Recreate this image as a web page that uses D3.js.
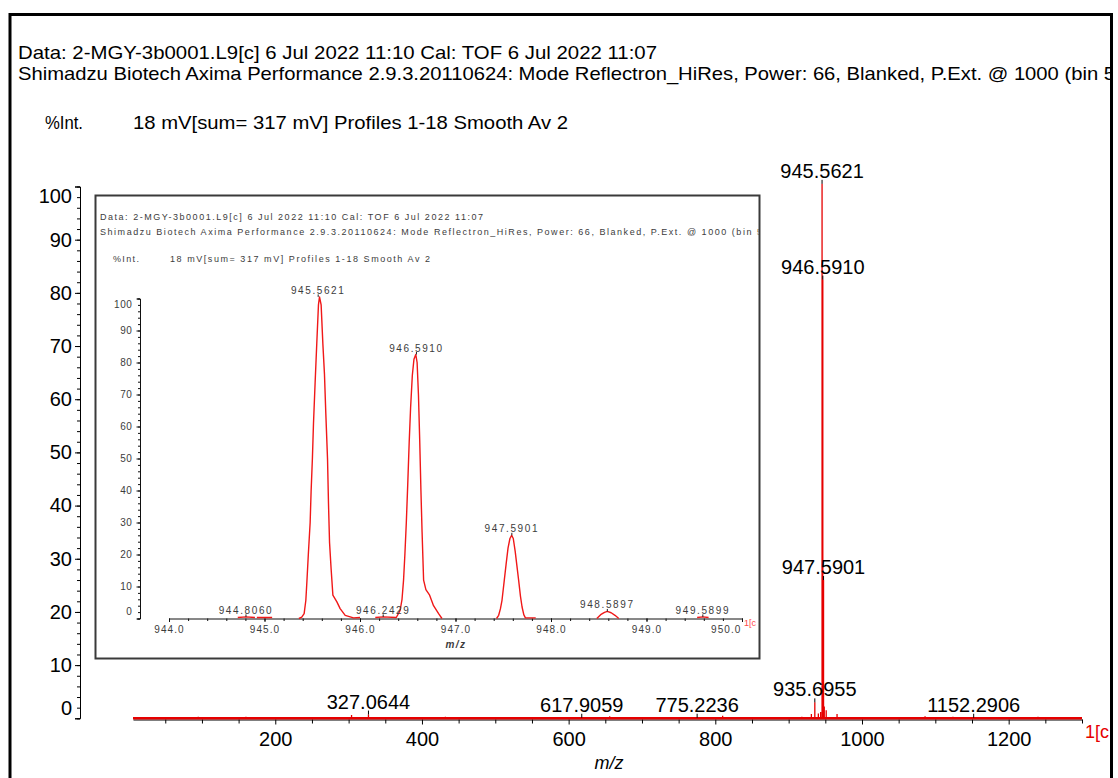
<!DOCTYPE html>
<html>
<head>
<meta charset="utf-8">
<script src="https://cdn.jsdelivr.net/npm/d3@7"></script>
<style>
  body { margin: 0; background: #fff; }
  svg { display: block; font-family: "Liberation Sans", Arial, sans-serif; }
</style>
</head>
<body>
<svg id="chart" width="1118" height="778"></svg>
<script>
// ---- acquisition header ----
const headerLine1 = "Data: 2-MGY-3b0001.L9[c] 6 Jul 2022 11:10 Cal: TOF 6 Jul 2022 11:07";
const headerLine2 = "Shimadzu Biotech Axima Performance 2.9.3.20110624: Mode Reflectron_HiRes, Power: 66, Blanked, P.Ext. @ 1000 (bin 5";
const intLabel = "%Int.";
const infoLine = "18 mV[sum= 317 mV]  Profiles 1-18 Smooth Av 2";
const traceTag = "1[c";
const axisTitle = "m/z";

// ---- full-range spectrum (m/z, % intensity) ----
const mainMz  = [95, 160, 304, 327.0644, 432, 617.9059, 656, 775.2236, 810, 918, 931, 935.6955, 940.5, 943.6,
                 945.5621, 946.5910, 947.5901, 948.5897, 951.2, 966, 1086, 1124, 1152.2906, 1240];
const mainInt = [0.3, 0.3, 0.6, 0.7, 0.3, 0.1, 0.4, 0.1, 0.5, 0.3, 0.8, 3.0, 0.9, 1.2,
                 100.5, 82.5, 26, 2.2, 1.5, 0.8, 0.4, 0.3, 0.1, 0.3];
const mainLabelMz  = [327.0644, 617.9059, 775.2236, 935.6955, 945.5621, 946.5910, 947.5901, 1152.2906];
const mainLabelInt = [0.7, 0.1, 0.1, 3.0, 100.5, 82.5, 26, 0.1];
const mainXTicks = [200, 400, 600, 800, 1000, 1200];
const mainXMinor = [50, 100, 150, 250, 300, 350, 450, 500, 550, 650, 700, 750, 850, 900, 950, 1050, 1100, 1150, 1250, 1300];
const yTicks = [0, 10, 20, 30, 40, 50, 60, 70, 80, 90, 100];
const yMinor = d3.range(0, 101, 2);

// ---- zoomed isotope cluster (m/z, % intensity); null marks a break in the trace ----
const insetMz = [
  944.72, 944.806, 944.90, null,
  944.92, 945.00, 945.08, null,
  945.36, 945.39, 945.415, 945.433, 945.443, 945.46, 945.478, 945.488, 945.502, 945.513, 945.530, 945.548,
  945.565, 945.576, 945.593, 945.611, 945.628, 945.642, 945.660, 945.670, 945.681, 945.698, 945.716, 945.758,
  945.792, 945.845, 945.932, 946.00, null,
  946.16, 946.2429, 946.38, 946.42, 946.44, 946.456, 946.47, 946.485, 946.50, 946.515, 946.53, 946.548,
  946.565, 946.584, 946.598, 946.612, 946.625, 946.638, 946.65, 946.666, 946.69, 946.729, 946.77, 946.823, 946.858, null,
  947.43, 947.452, 947.47, 947.487, 947.511, 947.53, 947.55, 947.57, 947.588, 947.605, 947.625, 947.645,
  947.661, 947.68, 947.697, 947.715, 947.732, 947.84, null,
  948.48, 948.52, 948.56, 948.59, 948.63, 948.67, 948.71, null,
  949.53, 949.59, 949.65
];
const insetInt = [
  0.3, 0.5, 0.3, null,
  0.3, 0.3, 0.3, null,
  0, 0.4, 1.5, 5.7, 11, 20.6, 30, 39.7, 50.3, 61, 73.7, 86.4,
  98, 100.5, 98, 85.9, 76.3, 64.1, 49.8, 36, 23.8, 15.3, 7.3, 5.2,
  3.1, 1, 0.2, 0.3, null,
  0.3, 0.5, 0.3, 2.5, 6, 12, 20, 30, 42, 55, 66, 76,
  81, 82.5, 80, 70, 56, 40, 27, 12, 9, 7.3, 4, 1.5, 0, null,
  0, 1, 3, 5.7, 12, 17, 22, 25, 26, 25, 21, 16,
  12, 7, 3.6, 1.2, 0.2, 0.2, null,
  0, 1.2, 1.9, 2.2, 1.8, 1, 0, null,
  0.3, 0.5, 0.3
];
const insetLabelMz  = [944.8060, 945.5621, 946.2429, 946.5910, 947.5901, 948.5897, 949.5899];
const insetLabelInt = [0.5, 100.5, 0.5, 82.5, 26, 2.2, 0.5];
const insetXTicks = [944, 945, 946, 947, 948, 949, 950];
const insetXMinor = d3.range(944, 950.001, 0.2);

const RED = "#e60000";
const svg = d3.select("#chart");
const fmt4 = d3.format(".4f");

svg.append("rect").attr("width", 1118).attr("height", 778).attr("fill", "#fff");

// frame clip so long header text is cut at the border
const defs = svg.append("defs");
defs.append("clipPath").attr("id", "frameClip")
  .append("rect").attr("x", 11.5).attr("y", 15).attr("width", 1098.5).attr("height", 800);
defs.append("clipPath").attr("id", "insetClip")
  .append("rect").attr("x", 96.5).attr("y", 196.5).attr("width", 662).attr("height", 460);

const page = svg.append("g").attr("clip-path", "url(#frameClip)");

// header text fitted to a fixed run length
function fitText(g, str, x0, yb, size, width, fill, mode) {
  return g.append("text").attr("x", x0).attr("y", yb).attr("font-size", size)
    .attr("fill", fill || "#000")
    .attr("textLength", width).attr("lengthAdjust", mode || "spacingAndGlyphs").text(str);
}

// ---- header ----
fitText(page, headerLine1, 18, 59, 18.5, 639);
fitText(page, headerLine2, 18, 80, 18.5, 1097);
fitText(page, intLabel, 45, 129, 18.5, 38);
fitText(page, infoLine, 133, 129, 18.5, 435);

// ---- main scales ----
const x = d3.scaleLinear().domain([6, 1300]).range([133, 1082]);
const y = d3.scaleLinear().domain([0, 100]).range([718.3, 186.5]);

// y axis
const yAxisG = page.append("g").attr("transform", "translate(80,0)");
yAxisG.append("g").call(d3.axisLeft(y).tickValues(yMinor).tickSize(3).tickSizeOuter(0).tickFormat(""))
  .call(g => g.select(".domain").remove());
yAxisG.append("g").call(d3.axisLeft(y).tickValues(yTicks).tickSize(5).tickSizeOuter(5).tickPadding(3))
  .call(g => g.selectAll("text").attr("font-size", 20).attr("font-family", "Liberation Sans, Arial, sans-serif").attr("fill", "#000"))
  .call(g => g.selectAll(".tick").filter(d => d === 0).select("text").attr("dy", "-0.2em"))
  .call(g => g.selectAll(".tick").filter(d => d === 100).select("text").attr("dy", "0.8em"));
yAxisG.selectAll("line, path").attr("stroke", "#000");

// x axis
const xAxisG = page.append("g").attr("transform", "translate(0,719.5)");
xAxisG.append("g").call(d3.axisBottom(x).tickValues(mainXMinor).tickSize(4).tickSizeOuter(0).tickFormat(""))
  .call(g => g.select(".domain").remove());
xAxisG.append("g").call(d3.axisBottom(x).tickValues(mainXTicks).tickSize(5).tickSizeOuter(0).tickPadding(7)
    .tickFormat(d3.format("d")))
  .call(g => g.selectAll("text").attr("font-size", 20).attr("font-family", "Liberation Sans, Arial, sans-serif").attr("fill", "#000"));
xAxisG.selectAll("line, path").attr("stroke", "#000");

page.append("text").attr("x", 609).attr("y", 769).attr("text-anchor", "middle")
  .attr("font-size", 18).attr("font-style", "italic").text(axisTitle);
page.append("text").attr("x", 1085).attr("y", 738).attr("font-size", 18).attr("fill", RED).text(traceTag);

// ---- main spectrum trace ----
const mainPts = [[6, 0]];
mainMz.forEach((m, i) => { mainPts.push([m, 0], [m, mainInt[i]], [m, 0]); });
mainPts.push([1300, 0]);
const mainLine = d3.line().x(d => x(d[0])).y(d => y(d[1]));
page.append("path").datum([[6, 0], [1300, 0]]).attr("d", mainLine)
  .attr("fill", "none").attr("stroke", RED).attr("stroke-width", 2.6);
page.append("path").datum(mainPts).attr("d", mainLine)
  .attr("fill", "none").attr("stroke", RED).attr("stroke-width", 1.3);

// peak markers and labels
const mainLab = page.append("g");
mainLabelMz.forEach((m, i) => {
  const py = y(mainLabelInt[i]);
  mainLab.append("line").attr("x1", x(m)).attr("x2", x(m)).attr("y1", py).attr("y2", py - 4)
    .attr("stroke", "#000").attr("stroke-width", 1);
  mainLab.append("text").attr("x", x(m)).attr("y", py - 6).attr("text-anchor", "middle")
    .attr("font-size", 20).text(fmt4(m));
});

// ---- inset panel ----
const inset = page.append("g");
inset.append("rect").attr("x", 95.5).attr("y", 195.5).attr("width", 664).attr("height", 463)
  .attr("fill", "#fff").attr("stroke", "#3a3a3a").attr("stroke-width", 2);
const inner = inset.append("g").attr("clip-path", "url(#insetClip)");
const GRAY = "#3c3c3c";

fitText(inner, headerLine1, 100, 220, 9, 383, GRAY, "spacing");
fitText(inner, headerLine2, 100, 235, 9, 662, GRAY, "spacing");
fitText(inner, intLabel, 113, 262, 9, 26, GRAY, "spacing");
fitText(inner, infoLine, 170, 262, 9, 260, GRAY, "spacing");

const ix = d3.scaleLinear().domain([944, 950]).range([169, 742]);
const iy = d3.scaleLinear().domain([0, 100]).range([618.5, 298.5]);

const iyAxis = inner.append("g").attr("transform", "translate(140,0)");
iyAxis.append("g").call(d3.axisLeft(iy).tickValues(yMinor).tickSize(2).tickSizeOuter(0).tickFormat(""))
  .call(g => g.select(".domain").remove());
iyAxis.append("g").call(d3.axisLeft(iy).tickValues(yTicks).tickSize(3.5).tickSizeOuter(3).tickPadding(4))
  .call(g => g.selectAll("text").attr("font-size", 10).attr("font-family", "Liberation Sans, Arial, sans-serif")
    .attr("fill", GRAY).attr("letter-spacing", 0.6))
  .call(g => g.selectAll(".tick").filter(d => d === 0).select("text").attr("dy", "-0.4em"))
  .call(g => g.selectAll(".tick").filter(d => d === 100).select("text").attr("dy", "0.85em"));
iyAxis.selectAll("line, path").attr("stroke", "#111");

const ixAxis = inner.append("g").attr("transform", "translate(0,618.5)");
ixAxis.append("g").call(d3.axisBottom(ix).tickValues(insetXMinor).tickSize(2.5).tickSizeOuter(0).tickFormat(""))
  .call(g => g.select(".domain").remove());
ixAxis.append("g").call(d3.axisBottom(ix).tickValues(insetXTicks).tickSize(3.5).tickSizeOuter(0).tickPadding(4)
    .tickFormat(d3.format(".1f")))
  .call(g => g.selectAll("text").attr("font-size", 10).attr("font-family", "Liberation Sans, Arial, sans-serif")
    .attr("fill", GRAY).attr("letter-spacing", 1.1))
  // the last label is kept inside the axis end
  .call(g => g.selectAll(".tick").filter(d => d === 950).select("text").attr("text-anchor", "end").attr("x", -1));
ixAxis.selectAll("line, path").attr("stroke", "#111");

inner.append("text").attr("x", 456).attr("y", 648).attr("text-anchor", "middle").attr("font-size", 10)
  .attr("font-style", "italic").attr("font-weight", "bold").attr("fill", GRAY).attr("letter-spacing", 1.5).text(axisTitle);
inner.append("text").attr("x", 744).attr("y", 626).attr("font-size", 9).attr("fill", "#ff4a4a").text(traceTag);

const insetPts = insetMz.map((m, i) => [m, insetInt[i]]);
inner.append("path").datum(insetPts)
  .attr("d", d3.line().defined(d => d[0] !== null).x(d => ix(d[0])).y(d => iy(d[1])))
  .attr("fill", "none").attr("stroke", "#f01818").attr("stroke-width", 1.4).attr("stroke-linejoin", "round");

insetLabelMz.forEach((m, i) => {
  const py = iy(insetLabelInt[i]);
  inner.append("line").attr("x1", ix(m)).attr("x2", ix(m)).attr("y1", py).attr("y2", py - 2.5)
    .attr("stroke", "#222").attr("stroke-width", 1);
  inner.append("text").attr("x", ix(m)).attr("y", py - 3).attr("text-anchor", "middle")
    .attr("font-size", 10).attr("fill", GRAY).attr("letter-spacing", 1.6).text(fmt4(m));
});

// ---- outer frame ----
svg.append("path").attr("d", "M10,800V14.5H1111.5V800").attr("fill", "none")
  .attr("stroke", "#000").attr("stroke-width", 3);
</script>
</body>
</html>
